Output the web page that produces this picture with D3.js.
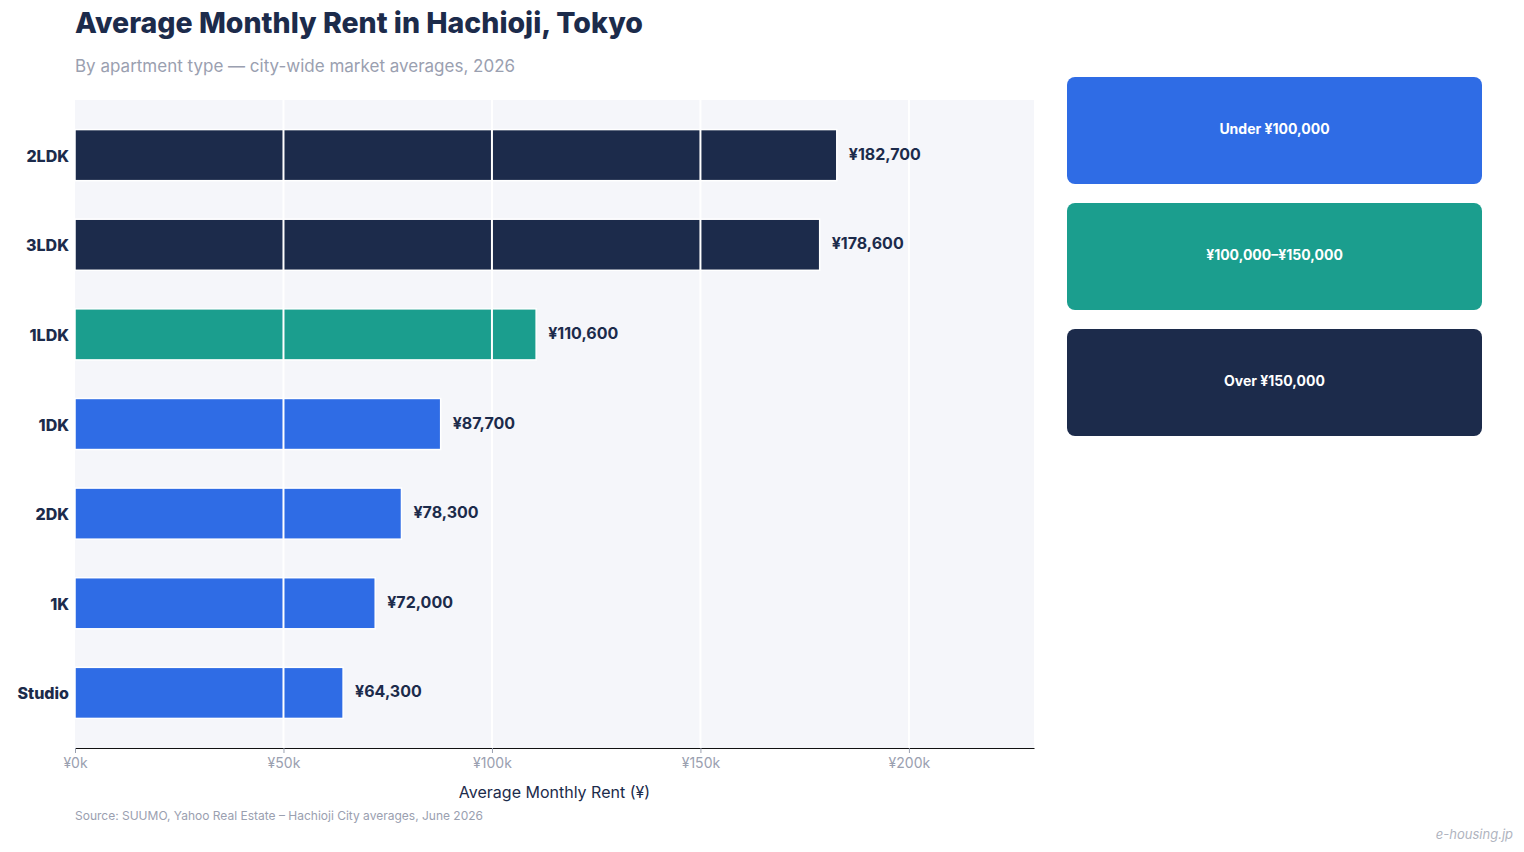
<!DOCTYPE html>
<html>
<head>
<meta charset="utf-8">
<script src="https://cdn.jsdelivr.net/npm/d3@7"></script>
<style>
  body { margin: 0; background: #fff; font-family: Inter, "Noto Sans", sans-serif; }
</style>
</head>
<body>
<svg id="chart" width="1524" height="852"></svg>
<script>
// data
const types = ['2LDK', '3LDK', '1LDK', '1DK', '2DK', '1K', 'Studio'];
const rents = [182700, 178600, 110600, 87700, 78300, 72000, 64300];
const xTicks = [0, 50000, 100000, 150000, 200000];
const bandLabels = ['Under ¥100,000', '¥100,000–¥150,000', 'Over ¥150,000'];
const bandColors = ['#2f6ce5', '#1b9e8e', '#1c2b4b'];

const svg = d3.select('#chart');
const navy = '#1c2b4b';

const plotL = 75, plotR = 1034, plotT = 100, plotB = 748;

const x = d3.scaleLinear().domain([0, 230000]).range([plotL, plotR]);
const y = d3.scaleBand().domain(types).range([plotT, plotB])
  .paddingInner(0.43).paddingOuter(0.33);

function colorFor(v) {
  if (v < 100000) return bandColors[0];
  if (v < 150000) return bandColors[1];
  return bandColors[2];
}

// title
svg.append('text')
  .attr('x', 75).attr('y', 33)
  .style('font-size', '28.5px').style('font-weight', 800)
  .style('fill', navy)
  .text('Average Monthly Rent in Hachioji, Tokyo');

svg.append('text')
  .attr('x', 75).attr('y', 72)
  .style('font-size', '17px')
  .style('fill', '#9aa0b0')
  .text('By apartment type — city-wide market averages, 2026');

// plot background
svg.append('rect')
  .attr('x', plotL).attr('y', plotT)
  .attr('width', plotR - plotL).attr('height', plotB - plotT)
  .style('fill', '#f5f6fa');

// bars
svg.selectAll('.bar')
  .data(types)
  .enter().append('rect')
  .attr('class', 'bar')
  .attr('x', x(0))
  .attr('y', d => y(d))
  .attr('width', (d, i) => x(rents[i]) - x(0))
  .attr('height', y.bandwidth())
  .style('fill', (d, i) => colorFor(rents[i]))
  .style('stroke', '#fff')
  .style('stroke-width', 1.5);

// grid lines on top
svg.selectAll('.grid')
  .data(xTicks.slice(1))
  .enter().append('line')
  .attr('x1', d => x(d)).attr('x2', d => x(d))
  .attr('y1', plotT).attr('y2', plotB)
  .style('stroke', '#fff')
  .style('stroke-width', 2);

// value labels
svg.selectAll('.val')
  .data(types)
  .enter().append('text')
  .attr('x', (d, i) => x(rents[i]) + 12)
  .attr('y', d => y(d) + y.bandwidth() / 2 - 1)
  .attr('dy', '0.35em')
  .style('font-size', '16px').style('font-weight', 700)
  .style('fill', navy)
  .text((d, i) => '¥' + d3.format(',')(rents[i]));

// y labels
svg.selectAll('.ylab')
  .data(types)
  .enter().append('text')
  .attr('x', 69)
  .attr('y', d => y(d) + y.bandwidth() / 2 + 1)
  .attr('dy', '0.35em')
  .attr('text-anchor', 'end')
  .style('font-size', '16px').style('font-weight', 800)
  .style('fill', navy)
  .text(d => d);

// x axis
const xAxis = svg.append('g')
  .attr('transform', 'translate(0,' + plotB + ')')
  .call(d3.axisBottom(x).tickValues(xTicks).tickSize(5).tickSizeOuter(0)
    .tickFormat(d => '¥' + d / 1000 + 'k'));
xAxis.select('.domain').style('stroke', '#111').style('stroke-width', 1.2);
xAxis.selectAll('.tick line').style('stroke', '#9aa0b0');
xAxis.selectAll('.tick text')
  .attr('y', 10)
  .style('font-size', '14px')
  .style('font-family', 'Inter, sans-serif')
  .style('fill', '#9aa0b0');

svg.append('text')
  .attr('x', (plotL + plotR) / 2).attr('y', 798)
  .attr('text-anchor', 'middle')
  .style('font-size', '16px')
  .style('fill', navy)
  .text('Average Monthly Rent (¥)');

svg.append('text')
  .attr('x', 75).attr('y', 820)
  .style('font-size', '12px')
  .style('fill', '#9aa0b0')
  .text('Source: SUUMO, Yahoo Real Estate – Hachioji City averages, June 2026');

svg.append('text')
  .attr('x', 1513).attr('y', 839)
  .attr('text-anchor', 'end')
  .style('font-size', '13px').style('font-style', 'italic')
  .style('fill', '#b0b4c0')
  .text('e-housing.jp');

// legend boxes
const legend = svg.selectAll('.leg')
  .data(bandLabels)
  .enter().append('g')
  .attr('transform', (d, i) => 'translate(1067,' + (77 + i * 126) + ')');

legend.append('rect')
  .attr('width', 415).attr('height', 107)
  .attr('rx', 8)
  .style('fill', (d, i) => bandColors[i]);

legend.append('text')
  .attr('x', 207.5).attr('y', 52)
  .attr('dy', '0.35em')
  .attr('text-anchor', 'middle')
  .style('font-size', '14px').style('font-weight', 700)
  .style('fill', '#fff')
  .text(d => d);
</script>
</body>
</html>
